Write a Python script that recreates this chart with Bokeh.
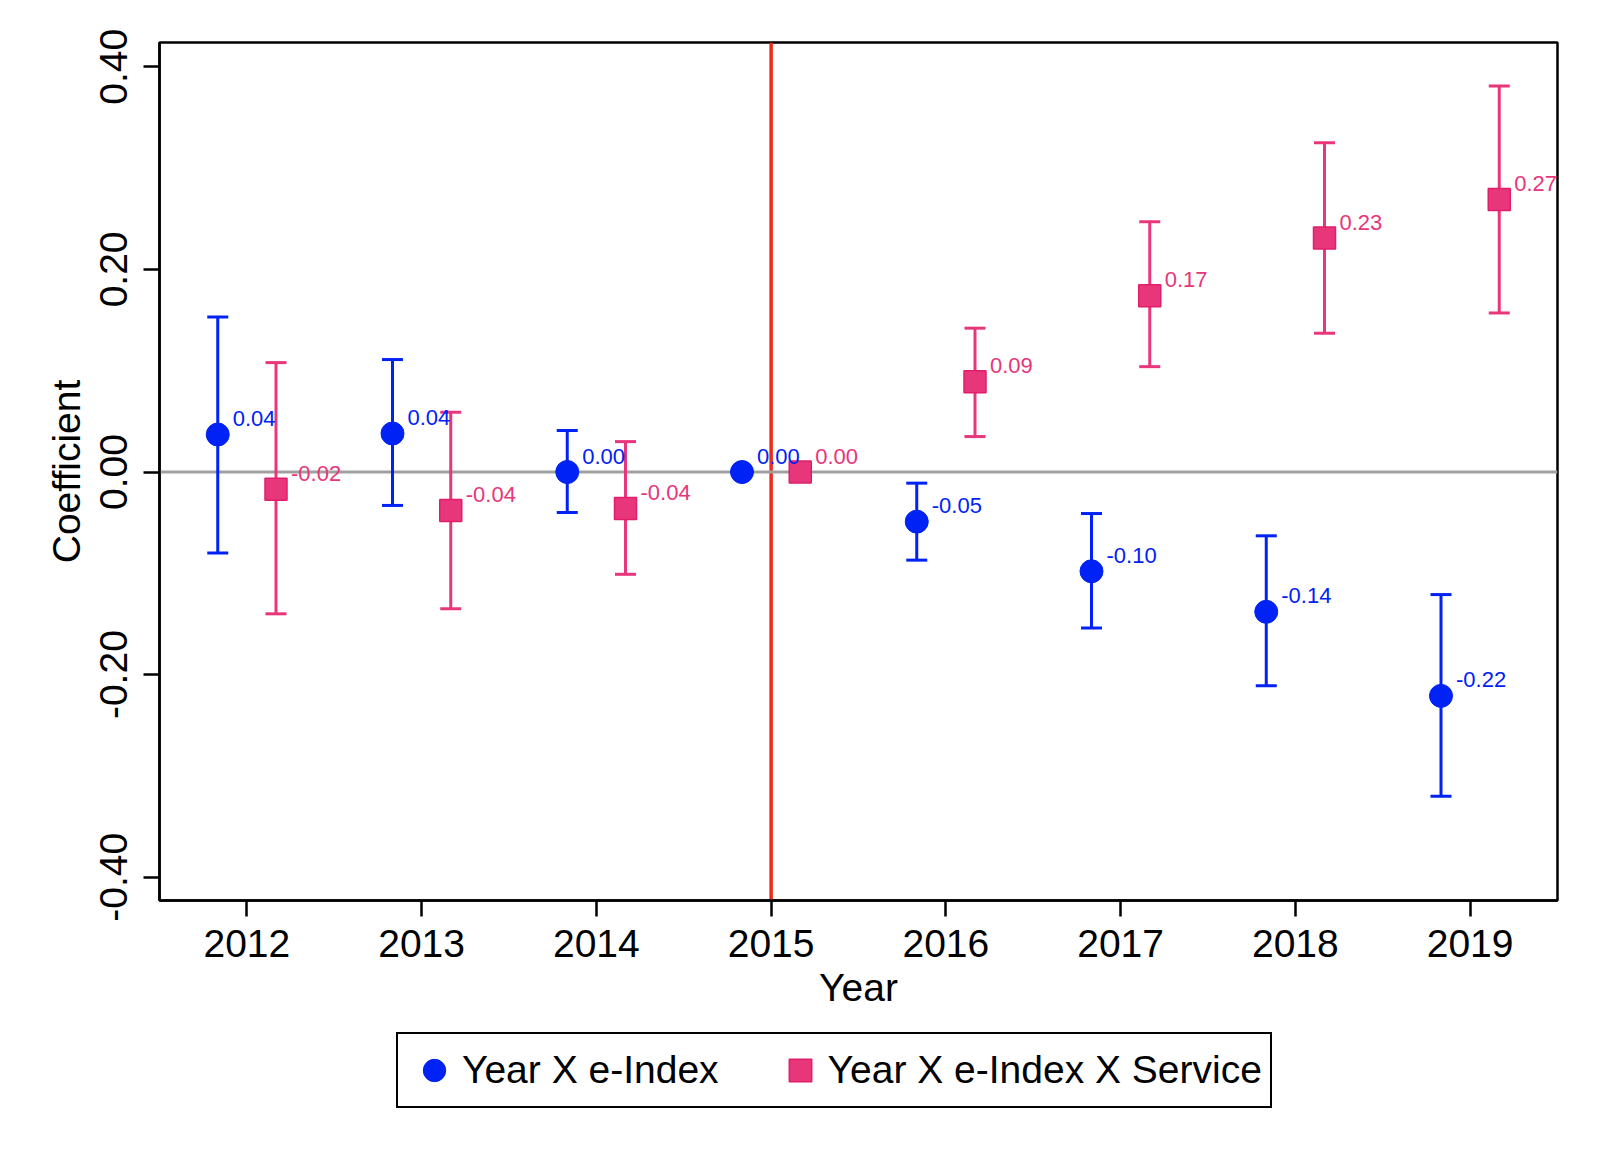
from bokeh.plotting import figure
from bokeh.layouts import column
from bokeh.models import (ColumnDataSource, Whisker, TeeHead, Span, Legend, LegendItem,
                          FixedTicker, PrintfTickFormatter, Range1d)
from bokeh.embed import file_html
from bokeh.resources import INLINE
from bokeh.core.properties import value

# ---------------- data ----------------
years = [2012, 2013, 2014, 2015, 2016, 2017, 2018, 2019]
ei_coef = [0.037, 0.038, 0.000, 0.000, -0.049, -0.098, -0.138, -0.221]
ei_upper = [0.153, 0.111, 0.041, 0.000, -0.011, -0.041, -0.063, -0.121]
ei_lower = [-0.080, -0.033, -0.040, 0.000, -0.087, -0.154, -0.211, -0.320]
svc_coef = [-0.017, -0.038, -0.036, 0.000, 0.089, 0.174, 0.231, 0.269]
svc_upper = [0.108, 0.059, 0.030, 0.000, 0.142, 0.247, 0.325, 0.381]
svc_lower = [-0.140, -0.135, -0.101, 0.000, 0.035, 0.104, 0.137, 0.157]
series_names = ["Year X e-Index", "Year X e-Index X Service"]
x_ticks = [2012, 2013, 2014, 2015, 2016, 2017, 2018, 2019]
y_ticks = [-0.4, -0.2, 0.0, 0.2, 0.4]
event_year = 2015

BLUE = "#0022F5"
PINK = "#E8367B"
PINK_EDGE = "#E01E6C"
RED = "#EE2A1A"
GRAY = "#A0A0A0"
FONT = "Liberation Sans"
DODGE = 1.0 / 6.0


def make_source(coef, upper, lower, shift):
    return ColumnDataSource(dict(
        x=[y + shift for y in years],
        coef=coef,
        upper=upper,
        lower=lower,
        label=[f"{v:.2f}" for v in coef],
    ))


def make_ci_source(src):
    d = src.data
    keep = [i for i in range(len(d["x"])) if d["upper"][i] != d["lower"][i]]
    return ColumnDataSource({k: [d[k][i] for i in keep] for k in d})


src_ei = make_source(ei_coef, ei_upper, ei_lower, -DODGE)
src_svc = make_source(svc_coef, svc_upper, svc_lower, DODGE)

p = figure(width=1584, height=1030,
           x_range=Range1d(2011.5, 2019.5), y_range=Range1d(-0.423, 0.424),
           output_backend="svg", toolbar_location=None,
           min_border_left=159, min_border_right=27,
           min_border_top=42, min_border_bottom=130)

p.xgrid.visible = False
p.ygrid.visible = False
p.outline_line_color = "black"
p.outline_line_width = 2.5
p.outline_line_alpha = 1.0
p.background_fill_color = "white"
p.border_fill_color = "white"

# reference lines
p.add_layout(Span(location=event_year, dimension="height", line_color=RED,
                  line_width=3.5, level="underlay"))
p.add_layout(Span(location=0, dimension="width", line_color=GRAY,
                  line_width=3, level="underlay"))

# confidence intervals
for src, col in [(src_ei, BLUE), (src_svc, PINK)]:
    ci = make_ci_source(src)
    w = Whisker(base="x", upper="upper", lower="lower", source=ci,
                line_color=col, line_width=3, level="underlay",
                upper_head=TeeHead(size=21, line_color=col, line_width=3),
                lower_head=TeeHead(size=21, line_color=col, line_width=3))
    p.add_layout(w)

r_ei = p.scatter(x="x", y="coef", source=src_ei, marker="circle", size=23,
                 fill_color=BLUE, line_color=BLUE)
r_svc = p.scatter(x="x", y="coef", source=src_svc, marker="square", size=22,
                  fill_color=PINK, line_color=PINK_EDGE, line_width=1.5)

for src, col in [(src_ei, BLUE), (src_svc, PINK)]:
    p.text(x="x", y="coef", text="label", source=src, x_offset=15, y_offset=-16,
           text_font=value(FONT), text_font_size="22px", text_color=col,
           text_align="left", text_baseline="alphabetic")

# axes
p.xaxis.ticker = FixedTicker(ticks=x_ticks)
p.xaxis.formatter = PrintfTickFormatter(format="%d")
p.yaxis.ticker = FixedTicker(ticks=y_ticks)
p.yaxis.formatter = PrintfTickFormatter(format="%.2f")
p.yaxis.major_label_orientation = "vertical"
p.xaxis.axis_label = "Year"
p.yaxis.axis_label = "Coefficient"
for ax in (p.xaxis[0], p.yaxis[0]):
    ax.axis_line_color = "black"
    ax.axis_line_width = 2.5
    ax.major_tick_line_color = "black"
    ax.major_tick_line_width = 2.5
    ax.major_tick_out = 16
    ax.major_tick_in = 0
    ax.minor_tick_out = 0
    ax.minor_tick_in = 0
    ax.major_label_text_font = FONT
    ax.major_label_text_font_size = "39px"
    ax.major_label_text_color = "black"
    ax.axis_label_text_font = FONT
    ax.axis_label_text_font_size = "39px"
    ax.axis_label_text_font_style = "normal"
    ax.axis_label_text_color = "black"
p.xaxis.major_label_standoff = 13
p.xaxis.axis_label_standoff = 6
p.yaxis.major_label_standoff = 16
p.yaxis.axis_label_standoff = 10

# ---------------- legend strip ----------------
pl = figure(width=1584, height=90, x_range=Range1d(0, 1), y_range=Range1d(0, 1),
            x_axis_location=None, y_axis_location=None,
            output_backend="svg", toolbar_location=None, min_border=0)
pl.outline_line_color = None
pl.xgrid.visible = False
pl.ygrid.visible = False
# same series drawn outside the strip's range so only their legend entries show
l_ei = pl.scatter(x="x", y="coef", source=src_ei, marker="circle", size=23,
                  fill_color=BLUE, line_color=BLUE)
l_svc = pl.scatter(x="x", y="coef", source=src_svc, marker="square", size=22,
                   fill_color=PINK, line_color=PINK_EDGE, line_width=1.5)

legend = Legend(items=[LegendItem(label=series_names[0], renderers=[l_ei]),
                       LegendItem(label=series_names[1], renderers=[l_svc])],
                orientation="horizontal", location=(237, 12),
                border_line_color="black", border_line_width=2,
                border_line_alpha=1.0,
                background_fill_color="white", background_fill_alpha=1.0,
                label_text_font=FONT, label_text_font_size="39px",
                label_text_color="black",
                glyph_width=56, glyph_height=56, padding=8, spacing=53,
                label_standoff=0, margin=0)
pl.add_layout(legend, "center")

layout = column(p, pl, spacing=0)
open("out.html", "w").write(file_html(layout, INLINE))
